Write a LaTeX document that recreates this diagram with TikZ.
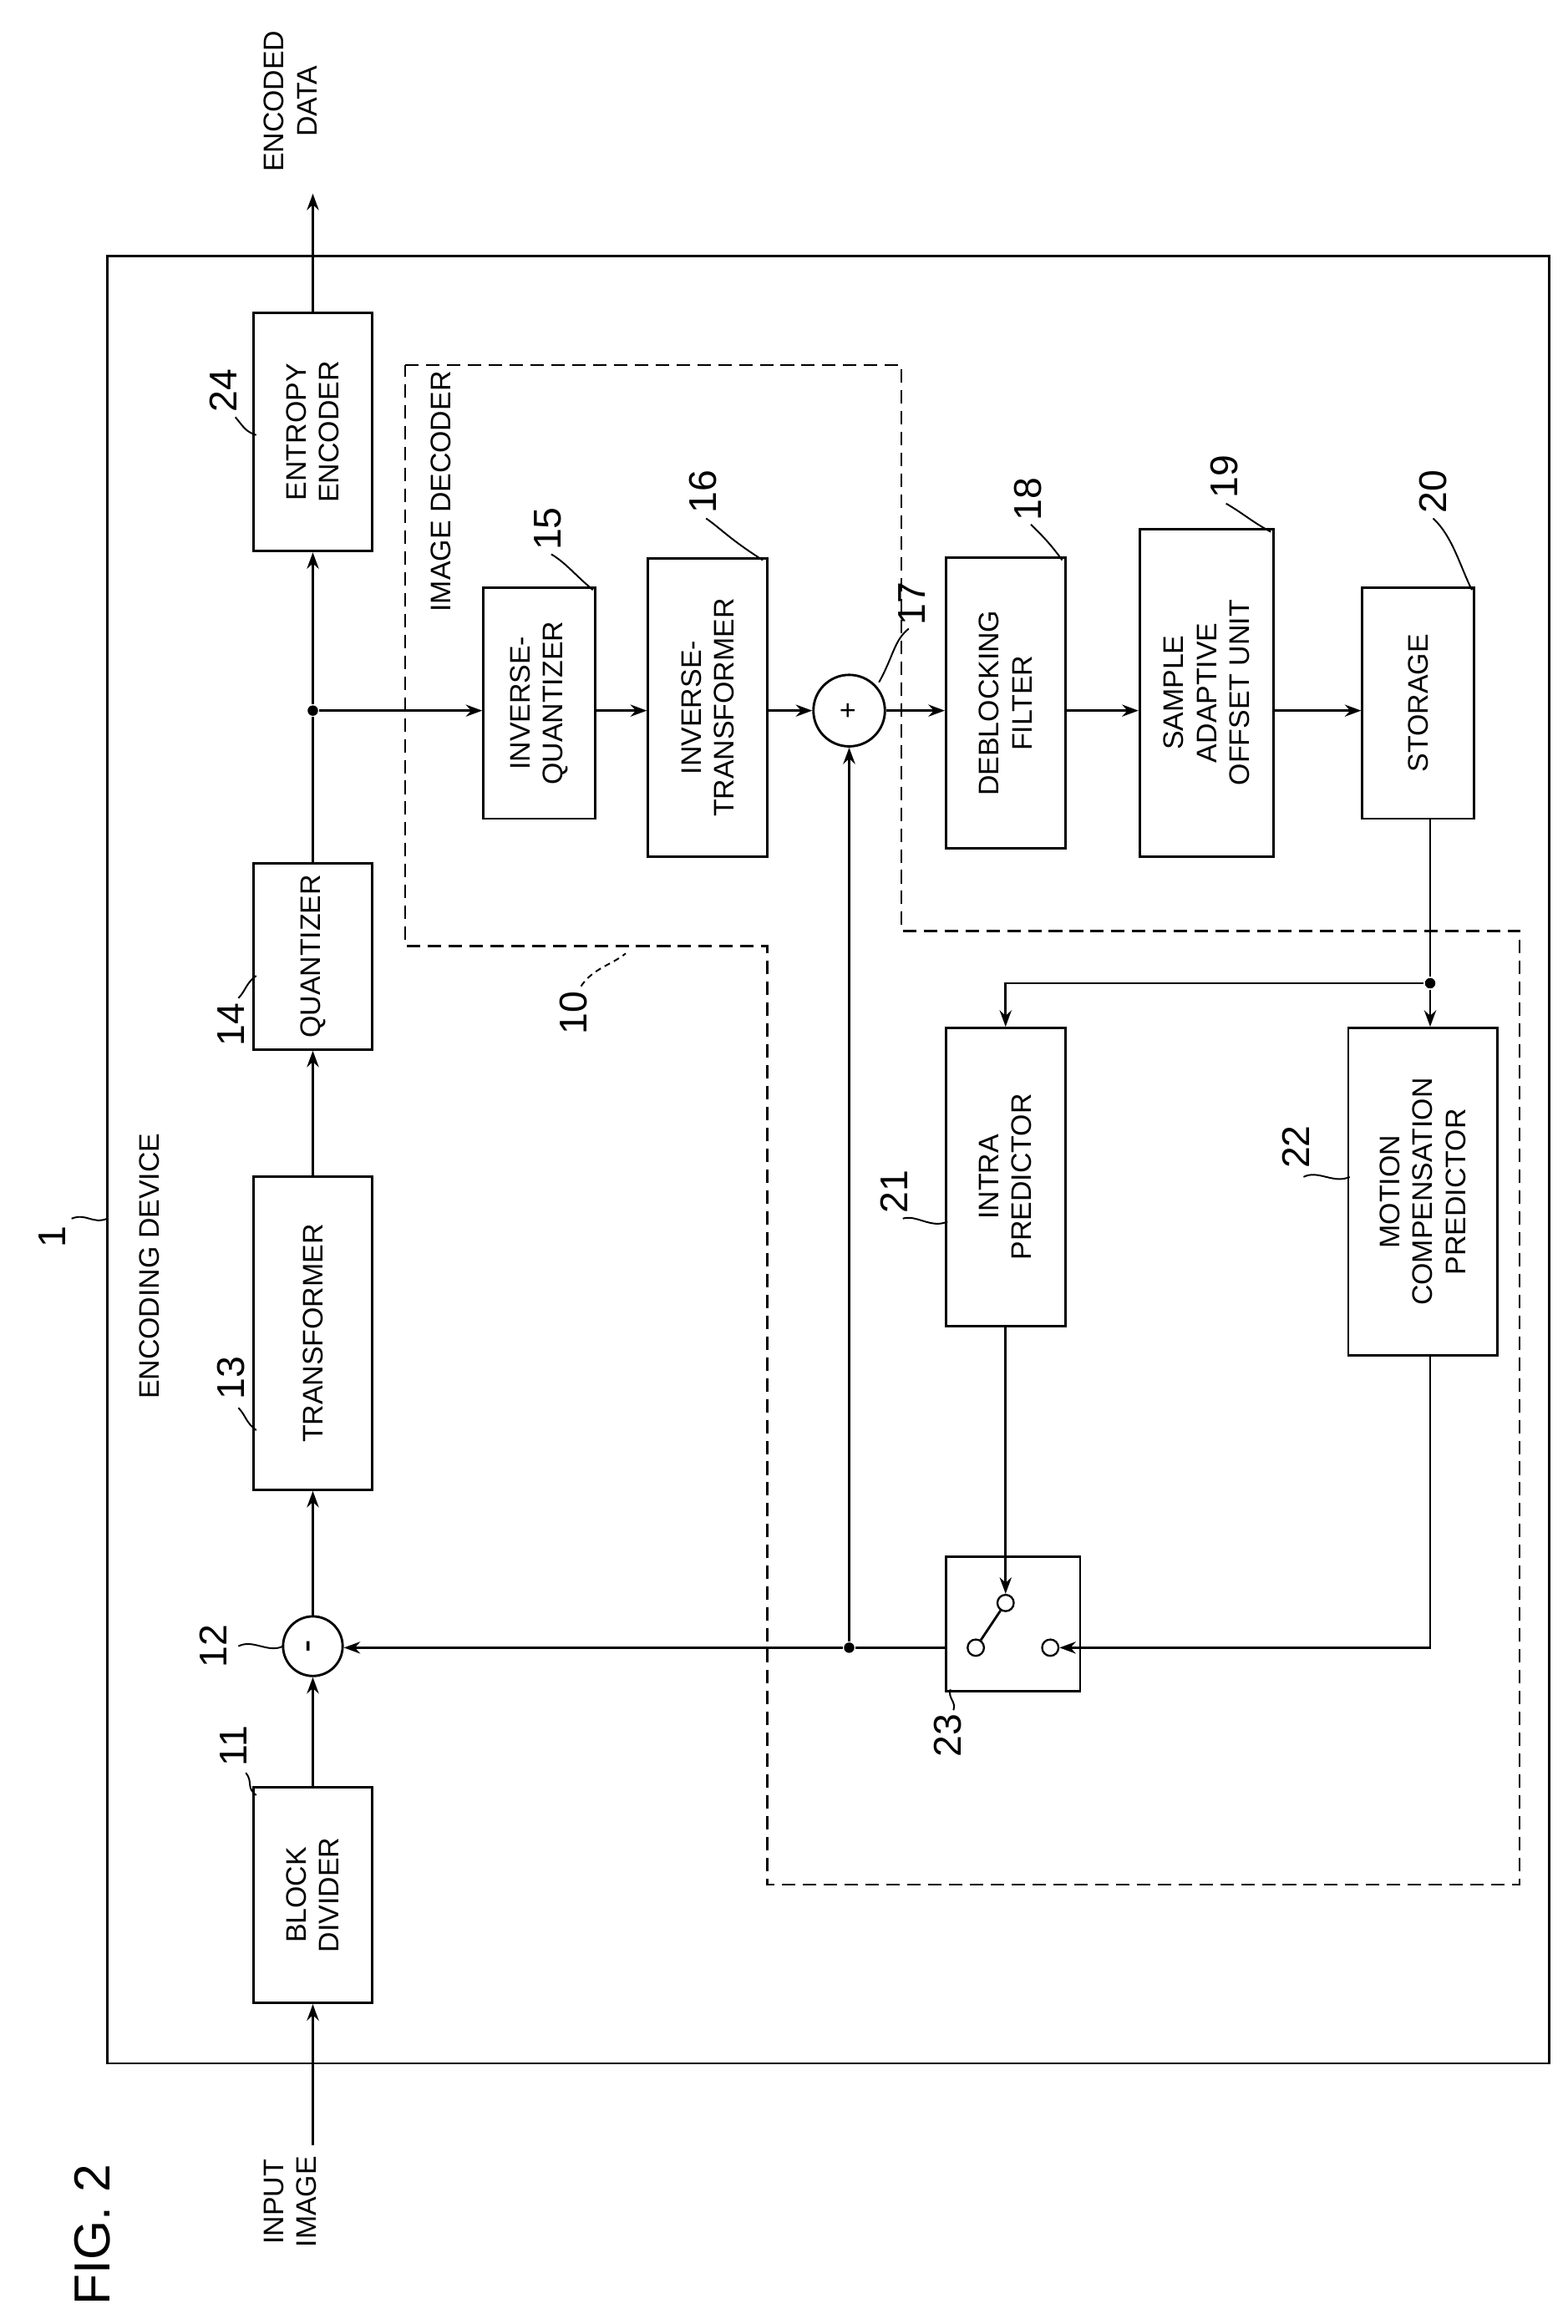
\documentclass[tikz,border=0pt]{standalone}
\usepackage{fontspec}
\setmainfont{Liberation Sans}
\usetikzlibrary{arrows.meta}
\begin{document}
\begin{tikzpicture}[x=1pt,y=-1pt,line width=1.6pt,
 box/.style={draw,rectangle,inner sep=0},
 rot/.style={rotate=90,align=center,font=\fontsize{19}{22}\selectfont,inner sep=0},
 num/.style={rotate=90,font=\fontsize{26}{28}\selectfont,inner sep=0},
 arr/.style={-{Stealth[length=11pt,width=8pt]}},
 dot/.style={circle,fill,inner sep=0,minimum size=7pt}]
\useasboundingbox (0,0) rectangle (1052,1560);
\draw (72,172) rectangle (1040,1385);
\draw[dash pattern=on 9pt off 5pt,line width=1.3pt] (272,245)--(605,245)--(605,625)--(1020,625)--(1020,1265)--(515,1265)--(515,635)--(272,635)--cycle;
% boxes
\node[box,minimum width=80pt,minimum height=145pt] (bd) at (210,1272) {};
\node[rot] at (bd) {BLOCK\\DIVIDER};
\node[box,circle,minimum size=40pt] (sub) at (210,1105) {};
\node[rot] at (sub) {\fontsize{26}{26}\selectfont -};
\node[box,minimum width=80pt,minimum height=210pt] (tr) at (210,895) {};
\node[rot] at (tr) {TRANSFORMER};
\node[box,minimum width=80pt,minimum height=125pt] (qu) at (210,642) {};
\node[rot] at (qu) {QUANTIZER};
\node[box,minimum width=80pt,minimum height=160pt] (ee) at (210,290) {};
\node[rot] at (ee) {ENTROPY\\ENCODER};
\node[box,minimum width=75pt,minimum height=155pt] (iq) at (362,472) {};
\node[rot] at (iq) {INVERSE-\\QUANTIZER};
\node[box,minimum width=80pt,minimum height=200pt] (it) at (475,475) {};
\node[rot] at (it) {INVERSE-\\TRANSFORMER};
\node[box,circle,minimum size=48pt] (add) at (570,477) {};
\node[rot] at (add) {+};
\node[box,minimum width=80pt,minimum height=195pt] (db) at (675,472) {};
\node[rot] at (db) {DEBLOCKING\\FILTER};
\node[box,minimum width=90pt,minimum height=220pt] (sao) at (810,465) {};
\node[rot] at (sao) {SAMPLE\\ADAPTIVE\\OFFSET UNIT};
\node[box,minimum width=75pt,minimum height=155pt] (st) at (952,472) {};
\node[rot] at (st) {STORAGE};
\node[box,minimum width=80pt,minimum height=200pt] (ip) at (675,790) {};
\node[rot] at (ip) {INTRA\\PREDICTOR};
\node[box,minimum width=100pt,minimum height=220pt] (mc) at (955,800) {};
\node[rot] at (mc) {MOTION\\COMPENSATION\\PREDICTOR};
\node[box,minimum width=90pt,minimum height=90pt] (sw) at (680,1090) {};
% switch contacts
\node[draw,circle,inner sep=0,minimum size=11pt,line width=1.3pt] (c1) at (675,1076) {};
\node[draw,circle,inner sep=0,minimum size=11pt,line width=1.3pt] (c2) at (655,1106) {};
\node[draw,circle,inner sep=0,minimum size=11pt,line width=1.3pt] (c3) at (705,1106) {};
\draw (c2)--(c1);
% texts
\node[rot] (in) at (195,1478) {INPUT\\IMAGE};
\node[rot] (out) at (195,68) {ENCODED\\DATA};
\node[rot,anchor=center] (ed) at (100,850) {ENCODING DEVICE};
\node[rot] (idl) at (296,330) {IMAGE DECODER};
\node[rot,font=\fontsize{34}{36}\selectfont] (fig) at (62,1500) {FIG. 2};
% connectors
\coordinate (inS) at (210,1440);
\coordinate (outE) at (210,130);
\draw[arr] (inS)--(bd.south);
\draw[arr] (bd.north)--(sub.south);
\draw[arr] (sub.north)--(tr.south);
\draw[arr] (tr.north)--(qu.south);
\node[dot] (d1) at (210,477) {};
\draw (qu.north)--(d1);
\draw[arr] (d1)--(ee.south);
\draw[arr] (ee.north)--(outE);
\draw[arr] (d1)--(iq.west|-d1);
\draw[arr] (iq.east|-d1)--(it.west|-d1);
\draw[arr] (it.east|-d1)--(add.west);
\draw[arr] (add.east)--(db.west|-d1);
\draw[arr] (db.east|-d1)--(sao.west|-d1);
\draw[arr] (sao.east|-d1)--(st.west|-d1);
\node[dot] (d2) at (960,660) {};
\draw (st.south-|d2)--(d2);
\draw[arr] (d2)--(d2|-mc.north);
\draw[arr] (d2)--(675,660)--(ip.north);
\draw[arr] (ip.south)--(c1.north);
\draw[arr] (d2|-mc.south)--(960,1106)--(c3.east);
\node[dot] (d3) at (570,1106) {};
\draw (sw.west|-d3)--(d3);
\draw[arr] (d3)--(sub.east|-d3);
\draw[arr] (d3)--(add.south);
% reference numerals with leaders
\node[num] (n1) at (35,830) {1};
\draw[line width=1.1pt] (48,818) .. controls (58,814) and (62,822) .. (72,818);
\node[num] (n11) at (157,1172) {11};
\draw[line width=1.1pt] (165,1190) .. controls (170,1196) and (165,1200) .. (172,1205);
\node[num] (n12) at (143,1105) {12};
\draw[line width=1.1pt] (160,1105) .. controls (170,1100) and (180,1110) .. (190,1105);
\node[num] (n13) at (155,925) {13};
\draw[line width=1.1pt] (160,945) .. controls (165,950) and (165,955) .. (172,960);
\node[num] (n14) at (155,688) {14};
\draw[line width=1.1pt] (160,670) .. controls (165,665) and (165,660) .. (172,655);
\node[num] (n24) at (150,262) {24};
\draw[line width=1.1pt] (158,280) .. controls (163,286) and (165,290) .. (172,292);
\node[num] (n15) at (368,355) {15};
\draw[line width=1.1pt] (370,372) .. controls (380,378) and (385,385) .. (398,396);
\node[num] (n16) at (472,330) {16};
\draw[line width=1.1pt] (474,348) .. controls (484,355) and (490,362) .. (512,376);
\node[num] (n17) at (612,405) {17};
\draw[line width=1.1pt] (610,422) .. controls (600,430) and (600,440) .. (590,458);
\node[num] (n18) at (690,335) {18};
\draw[line width=1.1pt] (692,352) .. controls (700,360) and (705,365) .. (713,376);
\node[num] (n19) at (822,320) {19};
\draw[line width=1.1pt] (823,338) .. controls (835,345) and (840,350) .. (853,357);
\node[num] (n20) at (962,330) {20};
\draw[line width=1.1pt] (962,348) .. controls (975,360) and (980,380) .. (988,396);
\node[num] (n21) at (600,800) {21};
\draw[line width=1.1pt] (606,818) .. controls (615,815) and (625,825) .. (636,820);
\node[num] (n22) at (870,770) {22};
\draw[line width=1.1pt] (875,790) .. controls (885,785) and (895,795) .. (906,790);
\node[num] (n23) at (636,1165) {23};
\draw[line width=1.1pt] (640,1148) .. controls (642,1142) and (636,1140) .. (638,1134);
\node[num] (n10) at (385,680) {10};
\draw[line width=1.1pt,dash pattern=on 4pt off 3pt] (390,662) .. controls (398,650) and (410,648) .. (420,640);
\end{tikzpicture}
\end{document}
